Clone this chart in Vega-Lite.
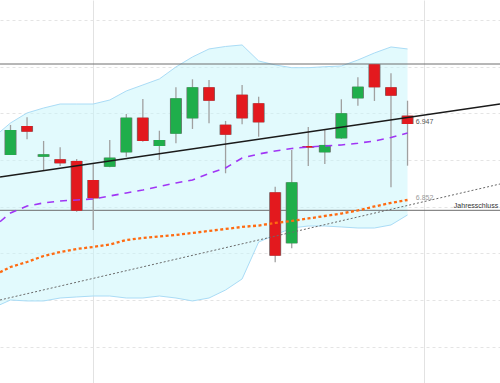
{
  "$schema": "https://vega.github.io/schema/vega-lite/v6.json",
  "width": 500,
  "height": 383,
  "padding": 0,
  "autosize": {"type": "none"},
  "background": "white",
  "config": {"view": {"stroke": null}, "font": "Liberation Sans",
    "axis": {"minExtent": 0, "maxExtent": 0, "tickSize": 0, "labelPadding": 0, "offset": 0, "titlePadding": 0}},
  "datasets": {
    "candles": [
      {"i": 1, "open": 6.9083, "high": 6.9458, "low": 6.9083, "close": 6.9395},
      {"i": 2, "open": 6.9445, "high": 6.9554, "low": 6.9279, "close": 6.9374},
      {"i": 3, "open": 6.9061, "high": 6.9258, "low": 6.8895, "close": 6.9091},
      {"i": 4, "open": 6.9029, "high": 6.9179, "low": 6.8945, "close": 6.8979},
      {"i": 5, "open": 6.9008, "high": 6.9033, "low": 6.8374, "close": 6.8386},
      {"i": 6, "open": 6.877, "high": 6.8983, "low": 6.8145, "close": 6.8541},
      {"i": 7, "open": 6.8936, "high": 6.927, "low": 6.8929, "close": 6.9049},
      {"i": 8, "open": 6.9116, "high": 6.9595, "low": 6.9061, "close": 6.9549},
      {"i": 9, "open": 6.9549, "high": 6.9783, "low": 6.9249, "close": 6.9258},
      {"i": 10, "open": 6.9195, "high": 6.9386, "low": 6.902, "close": 6.927},
      {"i": 11, "open": 6.9349, "high": 6.9929, "low": 6.9229, "close": 6.9791},
      {"i": 12, "open": 6.9541, "high": 7.0029, "low": 6.9408, "close": 6.9929},
      {"i": 13, "open": 6.9929, "high": 7.002, "low": 6.9479, "close": 6.9761},
      {"i": 14, "open": 6.9461, "high": 6.9508, "low": 6.8854, "close": 6.9336},
      {"i": 15, "open": 6.9836, "high": 6.9958, "low": 6.9466, "close": 6.9541},
      {"i": 16, "open": 6.9729, "high": 6.9811, "low": 6.9311, "close": 6.9491},
      {"i": 17, "open": 6.8616, "high": 6.8686, "low": 6.7741, "close": 6.7824},
      {"i": 18, "open": 6.7979, "high": 6.9145, "low": 6.7916, "close": 6.8741},
      {"i": 19, "open": 6.9195, "high": 6.9433, "low": 6.8945, "close": 6.9175},
      {"i": 20, "open": 6.9116, "high": 6.9395, "low": 6.897, "close": 6.9208},
      {"i": 21, "open": 6.9291, "high": 6.9779, "low": 6.9283, "close": 6.9604},
      {"i": 22, "open": 6.9791, "high": 7.0054, "low": 6.9699, "close": 6.9936},
      {"i": 23, "open": 7.0216, "high": 7.0216, "low": 6.9758, "close": 6.9929},
      {"i": 24, "open": 6.9929, "high": 7.0104, "low": 6.8679, "close": 6.9824},
      {"i": 25, "open": 6.9574, "high": 6.9761, "low": 6.8949, "close": 6.947}
    ],
    "bands": [
      {"i": 0.365, "upper": 6.9371, "lower": 6.7211, "mid": 6.8249, "ma": 6.7617},
      {"i": 1, "upper": 6.9483, "lower": 6.727, "mid": 6.8358, "ma": 6.7683},
      {"i": 2, "upper": 6.9608, "lower": 6.7258, "mid": 6.8445, "ma": 6.7745},
      {"i": 3, "upper": 6.967, "lower": 6.7258, "mid": 6.8483, "ma": 6.782},
      {"i": 4, "upper": 6.972, "lower": 6.7295, "mid": 6.8508, "ma": 6.787},
      {"i": 5, "upper": 6.972, "lower": 6.7308, "mid": 6.852, "ma": 6.7908},
      {"i": 6, "upper": 6.972, "lower": 6.732, "mid": 6.8533, "ma": 6.7933},
      {"i": 7, "upper": 6.977, "lower": 6.732, "mid": 6.857, "ma": 6.7964},
      {"i": 8, "upper": 6.9883, "lower": 6.7295, "mid": 6.8608, "ma": 6.802},
      {"i": 9, "upper": 6.9958, "lower": 6.7295, "mid": 6.8645, "ma": 6.8045},
      {"i": 10, "upper": 7.0033, "lower": 6.732, "mid": 6.8689, "ma": 6.8064},
      {"i": 11, "upper": 7.0183, "lower": 6.7295, "mid": 6.8733, "ma": 6.8083},
      {"i": 12, "upper": 7.0308, "lower": 6.7258, "mid": 6.877, "ma": 6.8108},
      {"i": 13, "upper": 7.0408, "lower": 6.7295, "mid": 6.8851, "ma": 6.8133},
      {"i": 14, "upper": 7.0439, "lower": 6.7395, "mid": 6.892, "ma": 6.8158},
      {"i": 15, "upper": 7.0458, "lower": 6.7533, "mid": 6.9045, "ma": 6.8183},
      {"i": 16, "upper": 7.0258, "lower": 6.7995, "mid": 6.9095, "ma": 6.8201},
      {"i": 17, "upper": 7.0208, "lower": 6.8083, "mid": 6.9133, "ma": 6.8233},
      {"i": 18, "upper": 7.0174, "lower": 6.817, "mid": 6.9164, "ma": 6.8258},
      {"i": 19, "upper": 7.0174, "lower": 6.8195, "mid": 6.9183, "ma": 6.8289},
      {"i": 20, "upper": 7.0186, "lower": 6.8195, "mid": 6.9195, "ma": 6.832},
      {"i": 21, "upper": 7.0195, "lower": 6.8183, "mid": 6.9208, "ma": 6.8351},
      {"i": 22, "upper": 7.027, "lower": 6.817, "mid": 6.9229, "ma": 6.8389},
      {"i": 23, "upper": 7.0358, "lower": 6.817, "mid": 6.9258, "ma": 6.8439},
      {"i": 24, "upper": 7.0433, "lower": 6.8208, "mid": 6.9301, "ma": 6.8483},
      {"i": 25, "upper": 7.0408, "lower": 6.8333, "mid": 6.9358, "ma": 6.852}
    ],
    "trend": [
      {"i": 0.365, "v": 6.8808},
      {"i": 30.59, "v": 6.972}
    ],
    "trend2": [
      {"i": 0.365, "v": 6.727},
      {"i": 30.59, "v": 6.872}
    ]
  },
  "layer": [
    {
      "data": {"name": "bands"},
      "mark": {"type": "area", "color": "#c6f5fc", "opacity": 0.5},
      "encoding": {
        "x": {"field": "i", "type": "quantitative", "scale": {"domain": [0.365, 30.59], "nice": false, "zero": false},
          "axis": {"values": [6, 26], "grid": true, "gridColor": "#e2e2e2", "gridWidth": 1, "labels": false, "ticks": false, "domain": false, "title": null}},
        "y": {"field": "upper", "type": "quantitative", "scale": {"domain": [6.62325, 7.102], "nice": false, "zero": false},
          "axis": {"values": [7.077, 7.0186, 6.9604, 6.902, 6.8436, 6.7854, 6.727, 6.6686], "grid": true, "gridColor": "#e4e4e4", "gridDash": [3, 3], "gridWidth": 1, "labels": false, "ticks": false, "domain": false, "title": null}},
        "y2": {"field": "lower"}
      }
    },
    {
      "data": {"name": "bands"},
      "mark": {"type": "line", "color": "#aadcf6", "strokeWidth": 1},
      "encoding": {
        "x": {"field": "i", "type": "quantitative", "scale": {"domain": [0.365, 30.59], "nice": false, "zero": false},
          "axis": {"values": [6, 26], "grid": true, "gridColor": "#e2e2e2", "gridWidth": 1, "labels": false, "ticks": false, "domain": false, "title": null}},
        "y": {"field": "upper", "type": "quantitative", "scale": {"domain": [6.62325, 7.102], "nice": false, "zero": false},
          "axis": {"values": [7.077, 7.0186, 6.9604, 6.902, 6.8436, 6.7854, 6.727, 6.6686], "grid": true, "gridColor": "#e4e4e4", "gridDash": [3, 3], "gridWidth": 1, "labels": false, "ticks": false, "domain": false, "title": null}}
      }
    },
    {
      "data": {"name": "bands"},
      "mark": {"type": "line", "color": "#aadcf6", "strokeWidth": 1},
      "encoding": {
        "x": {"field": "i", "type": "quantitative", "scale": {"domain": [0.365, 30.59], "nice": false, "zero": false},
          "axis": {"values": [6, 26], "grid": true, "gridColor": "#e2e2e2", "gridWidth": 1, "labels": false, "ticks": false, "domain": false, "title": null}},
        "y": {"field": "lower", "type": "quantitative", "scale": {"domain": [6.62325, 7.102], "nice": false, "zero": false},
          "axis": {"values": [7.077, 7.0186, 6.9604, 6.902, 6.8436, 6.7854, 6.727, 6.6686], "grid": true, "gridColor": "#e4e4e4", "gridDash": [3, 3], "gridWidth": 1, "labels": false, "ticks": false, "domain": false, "title": null}}
      }
    },
    {
      "data": {"values": [{"v": 7.022}, {"v": 6.8391}]},
      "mark": {"type": "rule", "color": "#6e6e6e", "strokeWidth": 1},
      "encoding": {
        "y": {"field": "v", "type": "quantitative", "scale": {"domain": [6.62325, 7.102], "nice": false, "zero": false},
          "axis": {"values": [7.077, 7.0186, 6.9604, 6.902, 6.8436, 6.7854, 6.727, 6.6686], "grid": true, "gridColor": "#e4e4e4", "gridDash": [3, 3], "gridWidth": 1, "labels": false, "ticks": false, "domain": false, "title": null}}
      }
    },
    {
      "data": {"name": "candles"},
      "mark": {"type": "rule", "color": "#a0a0a0", "strokeWidth": 1.3},
      "encoding": {
        "x": {"field": "i", "type": "quantitative", "scale": {"domain": [0.365, 30.59], "nice": false, "zero": false},
          "axis": {"values": [6, 26], "grid": true, "gridColor": "#e2e2e2", "gridWidth": 1, "labels": false, "ticks": false, "domain": false, "title": null}},
        "y": {"field": "low", "type": "quantitative", "scale": {"domain": [6.62325, 7.102], "nice": false, "zero": false},
          "axis": {"values": [7.077, 7.0186, 6.9604, 6.902, 6.8436, 6.7854, 6.727, 6.6686], "grid": true, "gridColor": "#e4e4e4", "gridDash": [3, 3], "gridWidth": 1, "labels": false, "ticks": false, "domain": false, "title": null}},
        "y2": {"field": "high"}
      }
    },
    {
      "data": {"name": "candles"},
      "mark": {"type": "rule", "strokeWidth": 12, "color": "#707070"},
      "encoding": {
        "x": {"field": "i", "type": "quantitative", "scale": {"domain": [0.365, 30.59], "nice": false, "zero": false},
          "axis": {"values": [6, 26], "grid": true, "gridColor": "#e2e2e2", "gridWidth": 1, "labels": false, "ticks": false, "domain": false, "title": null}},
        "y": {"field": "open", "type": "quantitative", "scale": {"domain": [6.62325, 7.102], "nice": false, "zero": false},
          "axis": {"values": [7.077, 7.0186, 6.9604, 6.902, 6.8436, 6.7854, 6.727, 6.6686], "grid": true, "gridColor": "#e4e4e4", "gridDash": [3, 3], "gridWidth": 1, "labels": false, "ticks": false, "domain": false, "title": null}},
        "y2": {"field": "close"}
      }
    },
    {
      "data": {"name": "candles"},
      "mark": {"type": "rule", "strokeWidth": 10.6},
      "encoding": {
        "x": {"field": "i", "type": "quantitative", "scale": {"domain": [0.365, 30.59], "nice": false, "zero": false},
          "axis": {"values": [6, 26], "grid": true, "gridColor": "#e2e2e2", "gridWidth": 1, "labels": false, "ticks": false, "domain": false, "title": null}},
        "y": {"field": "open", "type": "quantitative", "scale": {"domain": [6.62325, 7.102], "nice": false, "zero": false},
          "axis": {"values": [7.077, 7.0186, 6.9604, 6.902, 6.8436, 6.7854, 6.727, 6.6686], "grid": true, "gridColor": "#e4e4e4", "gridDash": [3, 3], "gridWidth": 1, "labels": false, "ticks": false, "domain": false, "title": null}},
        "y2": {"field": "close"},
        "color": {"condition": {"test": "datum.close > datum.open", "value": "#1fae4b"}, "value": "#e3191e"}
      }
    },
    {
      "data": {"name": "trend2"},
      "mark": {"type": "line", "color": "#6a6a6a", "strokeWidth": 1, "strokeDash": [2, 2]},
      "encoding": {
        "x": {"field": "i", "type": "quantitative", "scale": {"domain": [0.365, 30.59], "nice": false, "zero": false},
          "axis": {"values": [6, 26], "grid": true, "gridColor": "#e2e2e2", "gridWidth": 1, "labels": false, "ticks": false, "domain": false, "title": null}},
        "y": {"field": "v", "type": "quantitative", "scale": {"domain": [6.62325, 7.102], "nice": false, "zero": false},
          "axis": {"values": [7.077, 7.0186, 6.9604, 6.902, 6.8436, 6.7854, 6.727, 6.6686], "grid": true, "gridColor": "#e4e4e4", "gridDash": [3, 3], "gridWidth": 1, "labels": false, "ticks": false, "domain": false, "title": null}}
      }
    },
    {
      "data": {"name": "bands"},
      "mark": {"type": "line", "color": "#ff6a10", "strokeWidth": 2.3, "strokeDash": [3, 2.5]},
      "encoding": {
        "x": {"field": "i", "type": "quantitative", "scale": {"domain": [0.365, 30.59], "nice": false, "zero": false},
          "axis": {"values": [6, 26], "grid": true, "gridColor": "#e2e2e2", "gridWidth": 1, "labels": false, "ticks": false, "domain": false, "title": null}},
        "y": {"field": "ma", "type": "quantitative", "scale": {"domain": [6.62325, 7.102], "nice": false, "zero": false},
          "axis": {"values": [7.077, 7.0186, 6.9604, 6.902, 6.8436, 6.7854, 6.727, 6.6686], "grid": true, "gridColor": "#e4e4e4", "gridDash": [3, 3], "gridWidth": 1, "labels": false, "ticks": false, "domain": false, "title": null}}
      }
    },
    {
      "data": {"name": "bands"},
      "mark": {"type": "line", "color": "#a035f5", "strokeWidth": 1.6, "strokeDash": [7, 6]},
      "encoding": {
        "x": {"field": "i", "type": "quantitative", "scale": {"domain": [0.365, 30.59], "nice": false, "zero": false},
          "axis": {"values": [6, 26], "grid": true, "gridColor": "#e2e2e2", "gridWidth": 1, "labels": false, "ticks": false, "domain": false, "title": null}},
        "y": {"field": "mid", "type": "quantitative", "scale": {"domain": [6.62325, 7.102], "nice": false, "zero": false},
          "axis": {"values": [7.077, 7.0186, 6.9604, 6.902, 6.8436, 6.7854, 6.727, 6.6686], "grid": true, "gridColor": "#e4e4e4", "gridDash": [3, 3], "gridWidth": 1, "labels": false, "ticks": false, "domain": false, "title": null}}
      }
    },
    {
      "data": {"name": "trend"},
      "mark": {"type": "line", "color": "#1a1a1a", "strokeWidth": 1.6},
      "encoding": {
        "x": {"field": "i", "type": "quantitative", "scale": {"domain": [0.365, 30.59], "nice": false, "zero": false},
          "axis": {"values": [6, 26], "grid": true, "gridColor": "#e2e2e2", "gridWidth": 1, "labels": false, "ticks": false, "domain": false, "title": null}},
        "y": {"field": "v", "type": "quantitative", "scale": {"domain": [6.62325, 7.102], "nice": false, "zero": false},
          "axis": {"values": [7.077, 7.0186, 6.9604, 6.902, 6.8436, 6.7854, 6.727, 6.6686], "grid": true, "gridColor": "#e4e4e4", "gridDash": [3, 3], "gridWidth": 1, "labels": false, "ticks": false, "domain": false, "title": null}}
      }
    },
    {
      "data": {"values": [
        {"i": 25.5, "v": 6.947, "label": "6.947", "kind": "last"},
        {"i": 25.5, "v": 6.852, "label": "6.852", "kind": "ma"}
      ]},
      "mark": {"type": "text", "align": "left", "baseline": "middle", "dy": -2, "fontSize": 7},
      "encoding": {
        "x": {"field": "i", "type": "quantitative", "scale": {"domain": [0.365, 30.59], "nice": false, "zero": false},
          "axis": {"values": [6, 26], "grid": true, "gridColor": "#e2e2e2", "gridWidth": 1, "labels": false, "ticks": false, "domain": false, "title": null}},
        "y": {"field": "v", "type": "quantitative", "scale": {"domain": [6.62325, 7.102], "nice": false, "zero": false},
          "axis": {"values": [7.077, 7.0186, 6.9604, 6.902, 6.8436, 6.7854, 6.727, 6.6686], "grid": true, "gridColor": "#e4e4e4", "gridDash": [3, 3], "gridWidth": 1, "labels": false, "ticks": false, "domain": false, "title": null}},
        "text": {"field": "label"},
        "color": {"condition": {"test": "datum.kind === 'last'", "value": "#555555"}, "value": "#9a9a9a"}
      }
    },
    {
      "data": {"values": [{"i": 27.8, "v": 6.8391, "label": "Jahresschluss"}]},
      "mark": {"type": "text", "align": "left", "baseline": "bottom", "dy": -1, "fontSize": 7, "color": "#333333"},
      "encoding": {
        "x": {"field": "i", "type": "quantitative", "scale": {"domain": [0.365, 30.59], "nice": false, "zero": false},
          "axis": {"values": [6, 26], "grid": true, "gridColor": "#e2e2e2", "gridWidth": 1, "labels": false, "ticks": false, "domain": false, "title": null}},
        "y": {"field": "v", "type": "quantitative", "scale": {"domain": [6.62325, 7.102], "nice": false, "zero": false},
          "axis": {"values": [7.077, 7.0186, 6.9604, 6.902, 6.8436, 6.7854, 6.727, 6.6686], "grid": true, "gridColor": "#e4e4e4", "gridDash": [3, 3], "gridWidth": 1, "labels": false, "ticks": false, "domain": false, "title": null}},
        "text": {"field": "label"}
      }
    }
  ]
}
